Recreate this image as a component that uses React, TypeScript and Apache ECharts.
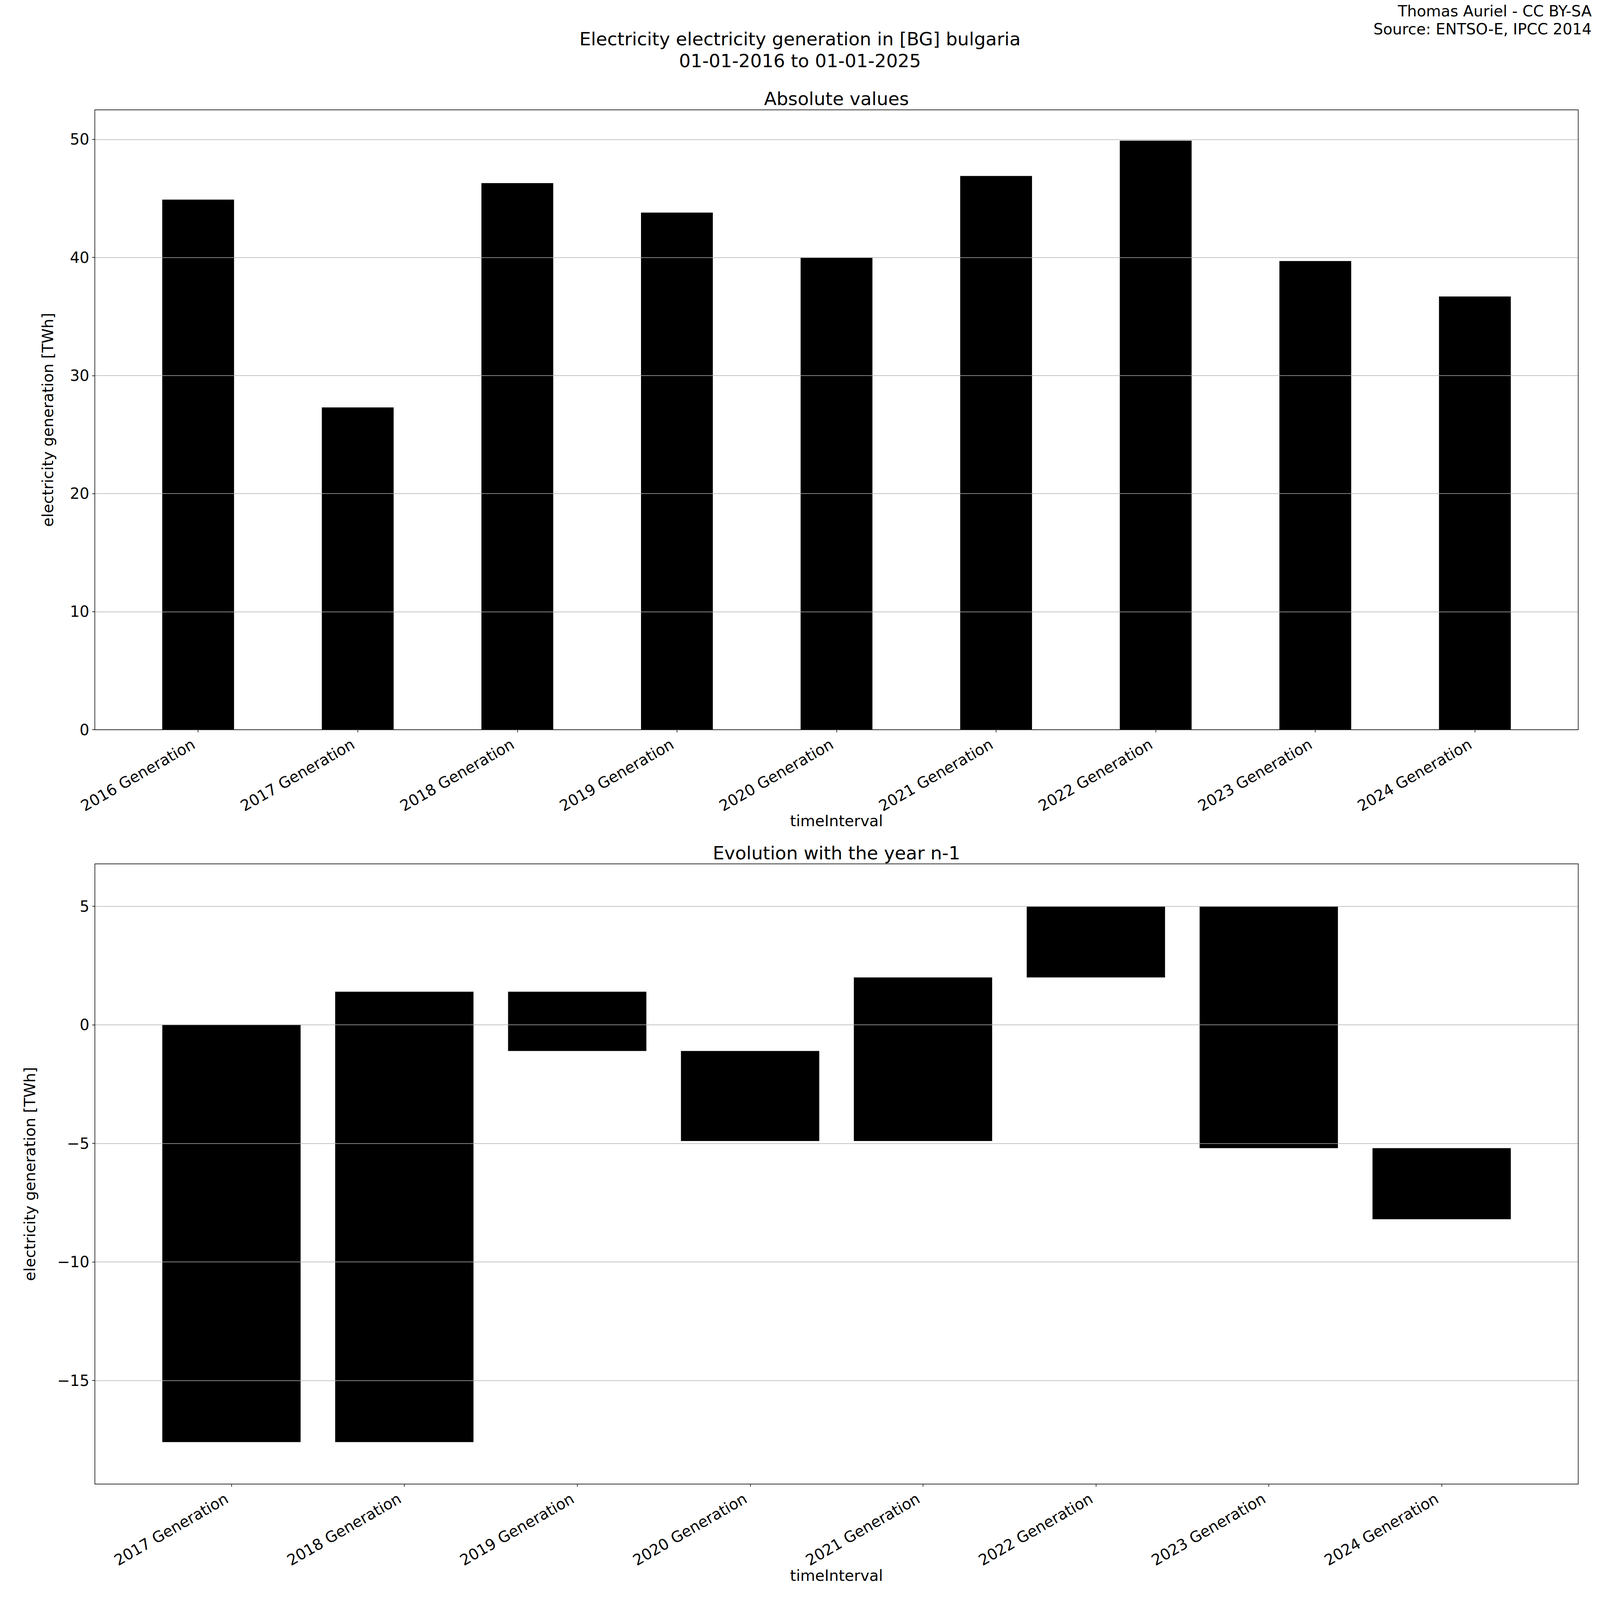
import React, { useEffect, useRef } from 'react';
import * as echarts from 'echarts';

// ---------- data ----------
const absCategories = [
  '2016 Generation', '2017 Generation', '2018 Generation', '2019 Generation', '2020 Generation',
  '2021 Generation', '2022 Generation', '2023 Generation', '2024 Generation',
];
const absValues = [44.9, 27.3, 46.3, 43.8, 40.0, 46.9, 49.9, 39.7, 36.7];

const evoCategories = [
  '2017 Generation', '2018 Generation', '2019 Generation', '2020 Generation',
  '2021 Generation', '2022 Generation', '2023 Generation', '2024 Generation',
];
const evoStart = [0, -17.6, 1.4, -1.1, -4.9, 2.0, 5.0, -5.2];
const evoEnd = [-17.6, 1.4, -1.1, -4.9, 2.0, 5.0, -5.2, -8.2];

// y ranges of the two panels
const absRange = [0, 52.5];
const evoRange = [-19.37, 6.79];

const mainTitle = ['Electricity electricity generation in [BG] bulgaria', '01-01-2016 to 01-01-2025'];
const credits = ['Thomas Auriel - CC BY-SA', 'Source: ENTSO-E, IPCC 2014'];
const subTitles = ['Absolute values', 'Evolution with the year n-1'];
const xName = 'timeInterval';
const yName = 'electricity generation [TWh]';

// ---------- layout (reference pixels, 4800 x 6400) ----------
const REF_W = 4800;
const REF_H = 6400;
const FONT = '"DejaVu Sans", Verdana, sans-serif';

const minus = (v: number) => String(v).replace('-', '\u2212');

function buildOption(sx: number, sy: number) {
  const sf = Math.min(sx, sy);
  const W = REF_W * sx;
  const H = REF_H * sy;
  const TICK_FS = 61 * sf;
  const TITLE_FS = 73 * sf;
  const LW = 2.4 * sf;

  const frameTop = { x: 284.4 * sx, y: 439.6 * sy, w: 4450.3 * sx, h: 2479.3 * sy };
  const frameBot = { x: 284.6 * sx, y: 3455.6 * sy, w: 4450.1 * sx, h: 2480.7 * sy };

  const unitTop = frameTop.w / 9.295;
  const gridTopLeft = frameTop.x + (0.6475 - 0.5) * unitTop;
  const gridTopRight = W - (gridTopLeft + 9 * unitTop);
  const unitBot = frameBot.w / 8.58;
  const gridBotLeft = frameBot.x + (0.79 - 0.5) * unitBot;
  const gridBotRight = W - (gridBotLeft + 8 * unitBot);

  const frameGrid = (f: { x: number; y: number; w: number; h: number }) => ({
    left: f.x,
    top: f.y,
    width: f.w,
    height: f.h,
    containLabel: false,
  });

  const textEl = (text: string, x: number, y: number, size: number, align: string, rotation = 0) => ({
    type: 'text',
    x: x * sx,
    y: y * sy,
    rotation,
    silent: true,
    z: 110,
    style: {
      text,
      fontSize: size,
      fontFamily: FONT,
      fill: '#000',
      align,
      verticalAlign: 'middle',
      textAlign: align,
      textVerticalAlign: 'middle',
    },
  });

  const frameEl = (f: { x: number; y: number; w: number; h: number }) => ({
    type: 'rect',
    silent: true,
    z: 100,
    shape: { x: f.x, y: f.y, width: f.w, height: f.h },
    style: { fill: 'none', stroke: '#000', lineWidth: LW },
  });

  const catAxis = {
    type: 'category',
    boundaryGap: true,
    position: 'bottom',
    axisLine: { show: false, onZero: false },
    axisTick: { show: true, alignWithLabel: true, length: 10.7 * sf, lineStyle: { color: '#000', width: LW } },
    axisLabel: {
      rotate: 30,
      interval: 0,
      fontSize: TICK_FS,
      fontFamily: FONT,
      color: '#000',
      margin: 42 * sf,
      padding: [0, 21 * sf, 0, 0],
    },
    splitLine: { show: false },
  };

  const shownY = {
    type: 'value',
    z: 5,
    axisLine: { show: false },
    axisTick: { show: true, length: 10.7 * sf, lineStyle: { color: '#000', width: LW } },
    splitLine: { show: true, lineStyle: { color: '#b0b0b0', width: 2.2 * sf } },
  };

  const hiddenX = { type: 'value', min: 0, max: 1, show: false };

  return {
    animation: false,
    backgroundColor: '#ffffff',
    grid: [
      { left: gridTopLeft, right: gridTopRight, top: frameTop.y, bottom: H - (frameTop.y + frameTop.h), containLabel: false },
      { left: gridBotLeft, right: gridBotRight, top: frameBot.y, bottom: H - (frameBot.y + frameBot.h), containLabel: false },
      frameGrid(frameTop),
      frameGrid(frameBot),
    ],
    xAxis: [
      { ...catAxis, gridIndex: 0, data: absCategories },
      { ...catAxis, gridIndex: 1, data: evoCategories },
      { ...hiddenX, gridIndex: 2 },
      { ...hiddenX, gridIndex: 3 },
    ],
    yAxis: [
      { type: 'value', gridIndex: 0, min: absRange[0], max: absRange[1], show: false },
      { type: 'value', gridIndex: 1, min: evoRange[0], max: evoRange[1], show: false },
      {
        ...shownY,
        gridIndex: 2,
        min: absRange[0],
        max: absRange[1],
        interval: 10,
        axisLabel: {
          fontSize: TICK_FS, fontFamily: FONT, color: '#000', margin: 22 * sf,
          showMinLabel: true, showMaxLabel: false,
          formatter: (v: number) => minus(v),
        },
      },
      {
        ...shownY,
        gridIndex: 3,
        min: evoRange[0],
        max: evoRange[1],
        splitNumber: 5,
        minInterval: 5,
        maxInterval: 5,
        axisLabel: {
          fontSize: TICK_FS, fontFamily: FONT, color: '#000', margin: 22 * sf,
          showMinLabel: false, showMaxLabel: false,
          formatter: (v: number) => minus(v),
        },
      },
    ],
    series: [
      {
        type: 'bar',
        xAxisIndex: 0,
        yAxisIndex: 0,
        data: absValues,
        barWidth: '45%',
        itemStyle: { color: '#000000' },
        z: 2,
      },
      {
        type: 'custom',
        xAxisIndex: 1,
        yAxisIndex: 1,
        z: 2,
        encode: { x: 0, y: [1, 2] },
        data: evoCategories.map((_, i) => [i, evoStart[i], evoEnd[i]]),
        renderItem: (params: any, api: any) => {
          const idx = api.value(0);
          const a = api.coord([idx, api.value(1)]);
          const b = api.coord([idx, api.value(2)]);
          const w = api.size([1, 0])[0] * 0.8;
          return {
            type: 'rect',
            shape: { x: a[0] - w / 2, y: Math.min(a[1], b[1]), width: w, height: Math.abs(b[1] - a[1]) },
            style: { fill: '#000000' },
          };
        },
      },
    ],
    graphic: [
      frameEl(frameTop),
      frameEl(frameBot),
      textEl(mainTitle[0], 2400, 156, TITLE_FS, 'center'),
      textEl(mainTitle[1], 2400, 244, TITLE_FS, 'center'),
      textEl(credits[0], 4775, 45, TICK_FS, 'right'),
      textEl(credits[1], 4775, 116, TICK_FS, 'right'),
      textEl(subTitles[0], 2509.5, 395, TITLE_FS, 'center'),
      textEl(subTitles[1], 2509.5, 3412, TITLE_FS, 'center'),
      textEl(xName, 2509.5, 3284, TICK_FS, 'center'),
      textEl(xName, 2509.5, 6302, TICK_FS, 'center'),
      textEl(yName, 143, 1679.2, TICK_FS, 'center', Math.PI / 2),
      textEl(yName, 90, 4696, TICK_FS, 'center', Math.PI / 2),
    ],
  };
}

export default function App() {
  const ref = useRef<HTMLDivElement>(null);

  useEffect(() => {
    const el = ref.current;
    if (!el) return;
    const vw = el.clientWidth || window.innerWidth || REF_W;
    const vh = el.clientHeight || window.innerHeight || REF_H;
    const sx = vw / REF_W;
    const sy = vh / REF_H;
    const chart = echarts.init(el, undefined, { renderer: 'svg', width: vw, height: vh });
    chart.setOption(buildOption(sx, sy) as any);
    return () => chart.dispose();
  }, []);

  return (
    <div
      ref={ref}
      style={{
        position: 'fixed',
        left: 0,
        top: 0,
        width: '100vw',
        height: '100vh',
        background: '#fff',
        overflow: 'hidden',
      }}
    />
  );
}
